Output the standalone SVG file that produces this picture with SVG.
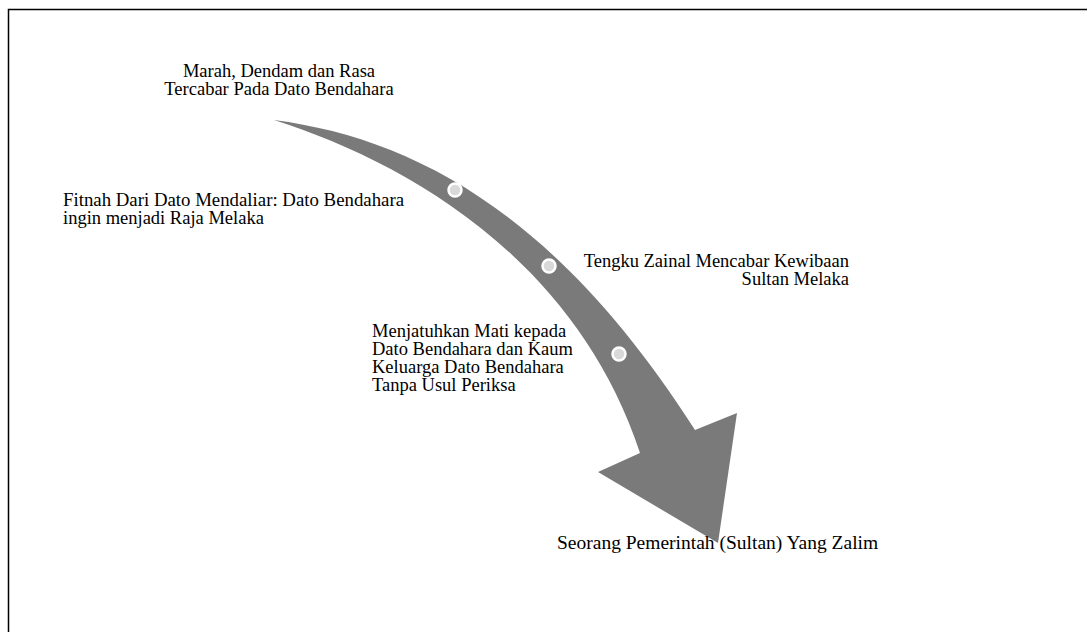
<svg xmlns="http://www.w3.org/2000/svg" width="1087" height="632" viewBox="0 0 1087 632">
<style>
  .t { font-family: "Liberation Serif", "Times New Roman", serif; font-size: 18.5px; fill: #000; }
  .dot { fill: #d9d9d9; stroke: #ffffff; stroke-width: 2.5; }
  .arrow { fill: #7a7a7a; stroke: none; }
</style>
<rect width="1087" height="632" fill="#ffffff"/>
<path d="M8.5,632 V9.5 H1087" fill="none" stroke="#000" stroke-width="1.5"/>
<g id="connectors">
  <path class="arrow" d="M274,120 C412,138 556,212 695,430 L737,413 L718,543 L598,472 L640,453 C575,255 400,160 274,120 Z"/>
</g>
<g id="node-dot1"><circle class="dot" cx="455" cy="190" r="6.5"/></g>
<g id="node-dot2"><circle class="dot" cx="549" cy="266" r="6.5"/></g>
<g id="node-dot3"><circle class="dot" cx="619" cy="354" r="6.5"/></g>
<g id="node-marah">
  <text class="t" text-anchor="middle" x="279" y="77">Marah, Dendam dan Rasa</text>
  <text class="t" text-anchor="middle" x="279" y="95">Tercabar Pada Dato Bendahara</text>
</g>
<g id="node-fitnah">
  <text class="t" x="63" y="206" textLength="341" lengthAdjust="spacingAndGlyphs">Fitnah Dari Dato Mendaliar: Dato Bendahara</text>
  <text class="t" x="63" y="224">ingin menjadi Raja Melaka</text>
</g>
<g id="node-tengku">
  <text class="t" text-anchor="end" x="849" y="267">Tengku Zainal Mencabar Kewibaan</text>
  <text class="t" text-anchor="end" x="849" y="285">Sultan Melaka</text>
</g>
<g id="node-menjatuhkan">
  <text class="t" x="372" y="337">Menjatuhkan Mati kepada</text>
  <text class="t" x="372" y="355">Dato Bendahara dan Kaum</text>
  <text class="t" x="372" y="373">Keluarga Dato Bendahara</text>
  <text class="t" x="372" y="391">Tanpa Usul Periksa</text>
</g>
<g id="node-seorang">
  <text class="t" x="557" y="549" style="font-size:19.5px">Seorang Pemerintah (Sultan) Yang Zalim</text>
</g>
</svg>
